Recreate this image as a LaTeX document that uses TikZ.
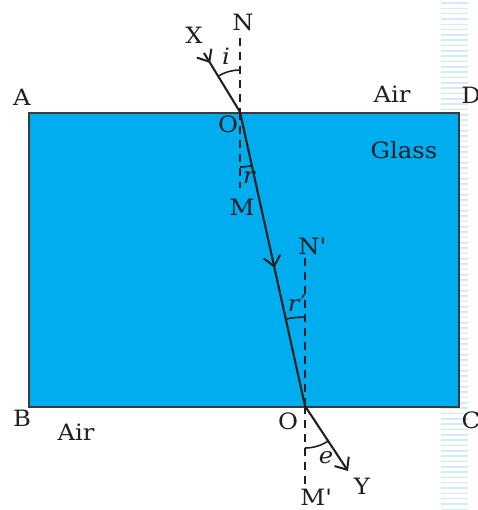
\documentclass[tikz,border=0pt]{standalone}
\usepackage{fontspec}
\setmainfont{DejaVu Serif}[FakeStretch=1.08]
\usetikzlibrary{arrows.meta,decorations.markings}
\definecolor{glass}{HTML}{00AEEF}
\definecolor{edge}{HTML}{3A3A3A}
\definecolor{ink}{HTML}{231F20}
\definecolor{stripe}{HTML}{D4EAF8}
\tikzset{
  ray/.style={draw=ink, line width=2.1pt},
  normal/.style={draw=ink, line width=1.5pt, dash pattern=on 8pt off 6pt},
  anglearc/.style={draw=ink, line width=1.6pt},
  lbl/.style={inner sep=0pt, text=ink, font=\fontsize{22.5}{24}\selectfont},
  ilbl/.style={lbl, font=\fontsize{22.5}{24}\selectfont\itshape},
  barb/.tip={Straight Barb[length=10pt,width=17pt,line width=2pt]},
  midarrow/.style={postaction={decorate, decoration={markings, mark=at position #1 with {\arrow{barb}}}}}
}
\begin{document}
\begin{tikzpicture}[x=1pt,y=1pt]
\useasboundingbox (0,0) rectangle (477,510);
% faint background stripes at the right edge
\foreach \k in {0,...,95}{
  \draw[stripe, line width=1.6pt] (441,{507-5.33*\k}) -- (468,{507-5.33*\k});
}
% glass slab
\node[draw=edge, fill=glass, line width=1.7pt, minimum width=430pt, minimum height=294pt, inner sep=0pt, anchor=north west] (slab) at (28,398) {};
% points
\coordinate (O1) at (240,398);
\coordinate (O2) at (305,104);
\coordinate (Xs) at (204,457);
\coordinate (Ye) at (348,39);
\coordinate (Ntop) at (240,472);
\coordinate (Mbot) at (240,322);
\coordinate (N2top) at (305,252);
\coordinate (M2bot) at (305,22);
% normals
\draw[normal] (Ntop) -- (O1);
\draw[normal] (O1) -- (Mbot);
\draw[normal] (N2top) -- (O2);
\draw[normal] (O2) -- (M2bot);
% rays
\draw[ray, midarrow=0.17] (Xs) -- (O1);
\draw[ray, midarrow=0.53] (O1) -- (O2);
\draw[ray, -{barb}] (O2) -- (Ye);
% angle arcs
\draw[anglearc] ([shift={(90:42)}]O1) arc[start angle=90, end angle=121.4, radius=42];
\draw[anglearc] ([shift={(270:55)}]O1) arc[start angle=270, end angle=282.5, radius=55];
\draw[anglearc] ([shift={(90:89)}]O2) arc[start angle=90, end angle=102.5, radius=89];
\draw[anglearc] ([shift={(270:42)}]O2) arc[start angle=270, end angle=303.5, radius=42];
% labels
\node[lbl] (lX) at (194,475) {X};
\node[lbl] (lN) at (243,488) {N};
\node[ilbl] (li) at (226,454) {i};
\node[lbl] (lA) at (22,413) {A};
\node[lbl] (lAir1) at (392,416) {Air};
\node[lbl] (lD) at (471,415) {D};
\node[lbl] (lO1) at (228,386) {O};
\node[lbl] (lGlass) at (404,360) {Glass};
\node[ilbl] (lr) at (249,332) {r};
\node[lbl] (lM) at (242,303) {M};
\node[lbl] (lN2) at (312,264) {N\textquotesingle};
\node[lbl] (lr2) at (297,207) {\textit{r}′};
\node[lbl] (lB) at (22,92) {B};
\node[lbl] (lAir2) at (76,78) {Air};
\node[lbl] (lO2) at (288,89) {O};
\node[lbl] (lC) at (471,90) {C};
\node[ilbl] (le) at (326,52) {e};
\node[lbl] (lY) at (362,24) {Y};
\node[lbl] (lM2) at (316,13) {M\textquotesingle};
\end{tikzpicture}
\end{document}
